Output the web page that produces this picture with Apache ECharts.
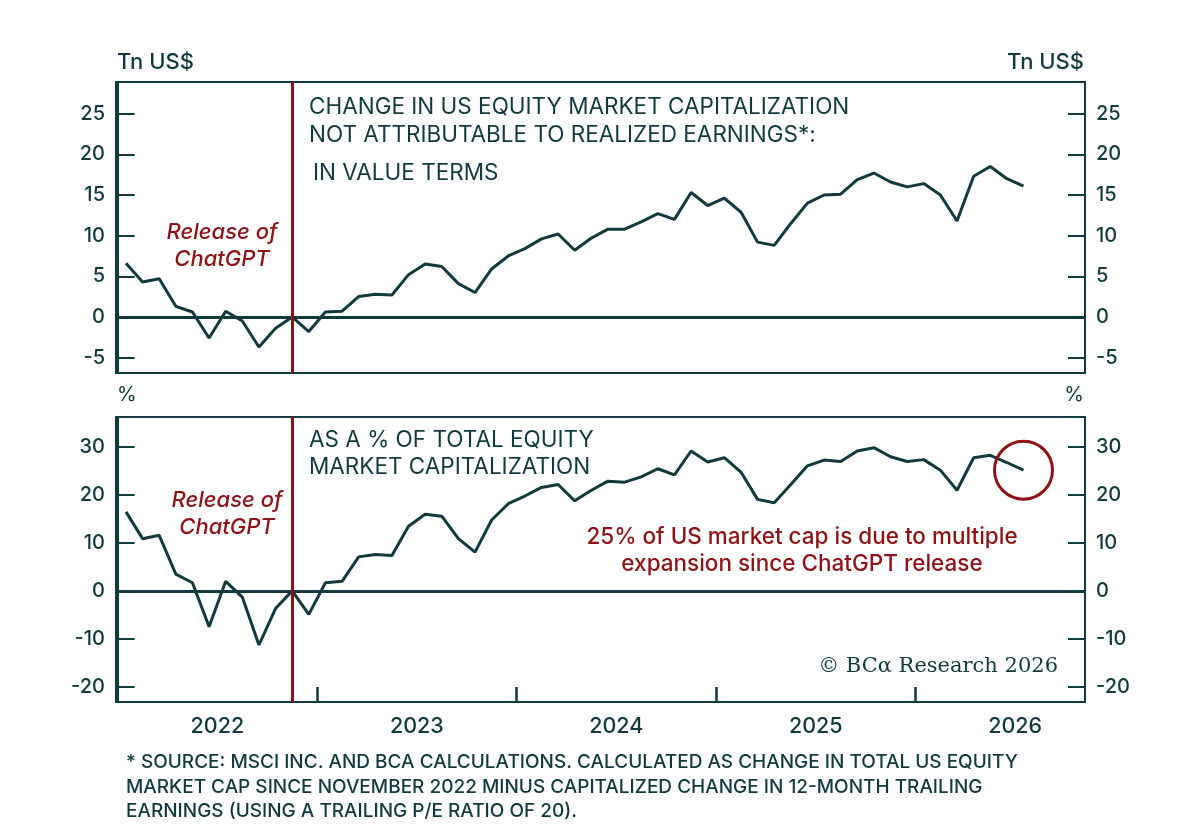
<!DOCTYPE html>
<html>
<head>
<meta charset="utf-8">
<script src="https://cdn.jsdelivr.net/npm/echarts@6/dist/echarts.min.js"></script>
<style>
  html, body { margin: 0; background: #fff; }
  #chart { width: 1200px; height: 830px; }
</style>
</head>
<body>
<div id="chart"></div>
<script>
// monthly observations, Jan 2022 onwards
const startYear = 2022
const releaseMonth = '2022-11'

// change in US equity market cap not attributable to realized earnings, Tn US$
const valueTn = [6.6, 4.3, 4.7, 1.3, 0.6, -2.6, 0.7, -0.5, -3.7, -1.4,
    0, -1.8, 0.6, 0.7, 2.5, 2.8, 2.7, 5.2, 6.5, 6.2,
    4.1, 3.0, 5.9, 7.5, 8.4, 9.6, 10.2, 8.2, 9.7, 10.8,
    10.8, 11.7, 12.7, 12.0, 15.3, 13.7, 14.6, 12.9, 9.2, 8.8,
    11.5, 14.0, 15.0, 15.1, 16.9, 17.7, 16.6, 16.0, 16.4, 15.0,
    11.8, 17.3, 18.5, 17.0, 16.1]

// same, as a % of total equity market cap
const pctOfCap = [16.5, 10.9, 11.6, 3.5, 1.7, -7.5, 2.0, -1.3, -11.3, -3.7,
    0, -4.9, 1.7, 2.0, 7.1, 7.6, 7.4, 13.5, 16.0, 15.6,
    10.9, 8.1, 14.8, 18.2, 19.8, 21.6, 22.2, 18.8, 21.0, 22.9,
    22.7, 23.8, 25.5, 24.2, 29.2, 26.9, 27.8, 24.8, 19.1, 18.4,
    22.2, 26.1, 27.3, 27.0, 29.2, 29.9, 28.0, 27.0, 27.4, 25.2,
    21.0, 27.8, 28.3, 26.8, 25.2]

const topTicks = [-5, 0, 5, 10, 15, 20, 25]
const bottomTicks = [-20, -10, 0, 10, 20, 30]
const yearLabels = ['2022', '2023', '2024', '2025', '2026']

const months = []
for (let i = 0; i < valueTn.length; i++) {
    const y = startYear + Math.floor(i / 12)
    const m = (i % 12) + 1
    months.push(y + '-' + (m < 10 ? '0' + m : m))
}
// x position of a month = months since Jan 2022, mid-month
const xOf = i => i + 0.5
const releaseX = xOf(months.indexOf(releaseMonth))
const yearStarts = yearLabels.map((y, i) => i * 12)
const yearMids = yearLabels.map((y, i) => i * 12 + 6)

const ink = '#113a3e'
const red = '#8e1216'
const font = 'Inter'

const chart = echarts.init(document.getElementById('chart'))

function yAxis(grid, pos, min, max, ticks) {
    return {
        type: 'value', gridIndex: grid, position: pos, min: min, max: max,
        axisLine: {show: true, lineStyle: {color: ink, width: 2}},
        axisTick: {show: true, inside: true, length: 17, lineStyle: {color: ink, width: 2}, customValues: ticks},
        axisLabel: {color: ink, fontSize: 20, fontWeight: 500, fontFamily: font, margin: 11, customValues: ticks},
        splitLine: {show: false}
    }
}

function xAxis(grid, showTicks) {
    return {
        type: 'value', gridIndex: grid, min: -0.1, max: 58.2,
        axisLine: {show: true, onZero: false, lineStyle: {color: ink, width: 2}},
        axisTick: {show: showTicks, inside: true, length: 15, lineStyle: {color: ink, width: 2.5}, customValues: yearStarts},
        axisLabel: {
            show: showTicks, color: ink, fontSize: 21.5, fontWeight: 500, fontFamily: font, margin: 14,
            customValues: yearMids,
            formatter: v => yearLabels[Math.round((v - 6) / 12)]
        },
        splitLine: {show: false}
    }
}

function marks() {
    return {
        silent: true, symbol: 'none', label: {show: false},
        data: [
            {yAxis: 0, lineStyle: {color: ink, width: 3, type: 'solid'}},
            {xAxis: releaseX, lineStyle: {color: red, width: 3, type: 'solid'}}
        ]
    }
}

function text(x, y, t, opt) {
    return {
        type: 'text', x: x, y: y, silent: true,
        style: Object.assign({
            text: t, fill: ink, fontSize: 22.5, fontFamily: font,
            textVerticalAlign: 'middle'
        }, opt || {})
    }
}

const redItalic = {fill: red, fontStyle: 'italic', fontWeight: 500, fontSize: 22, textAlign: 'center'}
const redNote = {fill: red, fontSize: 22.5, fontWeight: 500, textAlign: 'center'}
const note = {fontSize: 19, fontWeight: 500}

chart.setOption({
    animation: false,
    grid: [
        {left: 116, right: 115, top: 82, height: 291, show: true, borderColor: ink, borderWidth: 2},
        {left: 116, right: 115, top: 417, height: 285, show: true, borderColor: ink, borderWidth: 2}
    ],
    xAxis: [xAxis(0, false), xAxis(1, true)],
    yAxis: [
        yAxis(0, 'left', -6.9, 28.9, topTicks),
        yAxis(0, 'right', -6.9, 28.9, topTicks),
        yAxis(1, 'left', -23.2, 36.3, bottomTicks),
        yAxis(1, 'right', -23.2, 36.3, bottomTicks)
    ],
    series: [
        {
            type: 'line', xAxisIndex: 0, yAxisIndex: 0, symbol: 'none',
            data: valueTn.map((v, i) => [xOf(i), v]),
            lineStyle: {color: ink, width: 3}, markLine: marks(), z: 3
        },
        {
            type: 'line', xAxisIndex: 1, yAxisIndex: 2, symbol: 'none',
            data: pctOfCap.map((v, i) => [xOf(i), v]),
            lineStyle: {color: ink, width: 3}, markLine: marks(), z: 3
        },
        {
            type: 'scatter', xAxisIndex: 1, yAxisIndex: 2, silent: true,
            data: [[xOf(pctOfCap.length - 1), pctOfCap[pctOfCap.length - 1]]],
            symbol: 'circle', symbolSize: 58,
            itemStyle: {color: 'rgba(0,0,0,0)', borderColor: red, borderWidth: 3, opacity: 1}, z: 4
        }
    ],
    graphic: [
        text(117, 62, 'Tn US$', {fontSize: 22, fontWeight: 500}),
        text(1084, 62, 'Tn US$', {fontSize: 22, fontWeight: 500, textAlign: 'right'}),
        text(117, 395, '%', {fontSize: 20}),
        text(1084, 395, '%', {fontSize: 20, textAlign: 'right'}),
        text(309, 107, 'CHANGE IN US EQUITY MARKET CAPITALIZATION'),
        text(309, 135, 'NOT ATTRIBUTABLE TO REALIZED EARNINGS*:'),
        text(313, 173, 'IN VALUE TERMS'),
        text(222, 232, 'Release of', redItalic),
        text(222, 259, 'ChatGPT', redItalic),
        text(309, 440, 'AS A % OF TOTAL EQUITY'),
        text(309, 467, 'MARKET CAPITALIZATION'),
        text(227, 500, 'Release of', redItalic),
        text(227, 527, 'ChatGPT', redItalic),
        text(802, 537, '25% of US market cap is due to multiple', redNote),
        text(802, 564, 'expansion since ChatGPT release', redNote),
        text(1058, 667, '© BCα Research 2026', {fontFamily: 'DejaVu Serif', fontSize: 21, textAlign: 'right'}),
        text(126, 762, '* SOURCE: MSCI INC. AND BCA CALCULATIONS. CALCULATED AS CHANGE IN TOTAL US EQUITY', note),
        text(126, 787, 'MARKET CAP SINCE NOVEMBER 2022 MINUS CAPITALIZED CHANGE IN 12-MONTH TRAILING', note),
        text(126, 811, 'EARNINGS (USING A TRAILING P/E RATIO OF 20).', note)
    ]
})
</script>
</body>
</html>
